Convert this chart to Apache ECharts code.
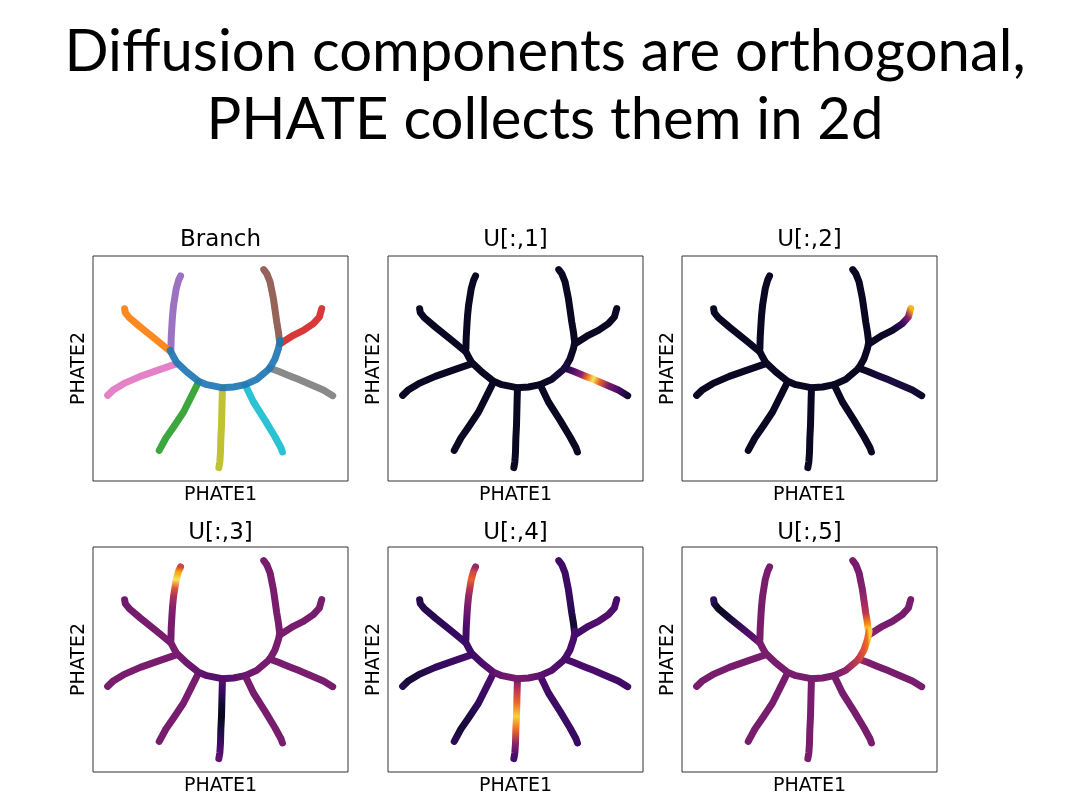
<!DOCTYPE html>
<html><head><meta charset="utf-8">
<script src="https://cdn.jsdelivr.net/npm/echarts@6.0.0/dist/echarts.min.js"></script>
<style>html,body{margin:0;padding:0;background:#fff}#c{width:1072px;height:810px}</style>
</head><body><div id="c"></div>
<script>
// ---------- text ----------
const mainTitle = ['Diffusion components are orthogonal,', 'PHATE collects them in 2d'];
const panelTitles = ['Branch', 'U[:,1]', 'U[:,2]', 'U[:,3]', 'U[:,4]', 'U[:,5]'];
const xLabel = 'PHATE1';
const yLabel = 'PHATE2';

// ---------- embedding (PHATE1, PHATE2), one array per branch ----------
const branchNames = ['trunk', 'purple', 'orange', 'pink', 'green', 'olive', 'cyan', 'gray', 'red', 'brown'];
const trunkXY  = [[-15.0,5.5],[-14.0,3.5],[-13.0,1.8],[-10.0,-1.0],[-6.5,-3.8],[-4.0,-4.8],[0.5,-5.7],[4.0,-5.5],[7.5,-4.8],[11.0,-3.2],[14.8,0.0],[16.5,3.0],[17.5,6.0],[18.0,8.5]];
const purpleXY = [[-14.8,6.0],[-14.7,9.5],[-14.5,13.0],[-14.3,16.0],[-14.0,19.0],[-13.6,21.5],[-13.2,24.0],[-12.5,26.5],[-11.9,27.8]];
const orangeXY = [[-15.0,5.2],[-19.0,8.5],[-24.0,12.5],[-27.3,15.3],[-28.5,16.8],[-28.7,18.0]];
const pinkXY   = [[-13.0,1.5],[-18.0,-0.2],[-24.0,-2.3],[-29.0,-4.5],[-32.0,-6.3],[-33.8,-8.0]];
const greenXY  = [[-6.5,-4.0],[-8.5,-8.0],[-11.0,-13.0],[-14.0,-17.5],[-16.3,-20.8],[-18.3,-24.5]];
const oliveXY  = [[0.7,-5.8],[0.6,-9.0],[0.5,-13.0],[0.4,-17.0],[0.2,-21.0],[0.1,-25.0],[-0.1,-28.0],[-0.4,-29.7]];
const cyanXY   = [[7.5,-4.8],[10.0,-10.0],[13.5,-15.5],[16.5,-20.5],[18.3,-23.8],[18.7,-25.0]];
const grayXY   = [[14.8,0.2],[17.5,-0.8],[20.0,-1.8],[21.7,-2.5],[23.5,-3.2],[25.2,-3.9],[28.0,-5.1],[31.0,-6.4],[33.8,-8.1]];
const redXY    = [[18.0,7.5],[22.0,10.0],[25.0,11.5],[28.0,13.5],[29.8,15.5],[30.5,18.0]];
const brownXY  = [[17.8,8.5],[17.5,11.0],[17.0,14.0],[16.5,17.5],[16.0,21.0],[15.5,23.5],[15.0,26.0],[14.0,28.5],[13.1,29.7]];
const branchXY = [trunkXY, purpleXY, orangeXY, pinkXY, greenXY, oliveXY, cyanXY, grayXY, redXY, brownXY];

// ---------- diffusion component values (0..1 colour scale) per branch point ----------
const U1 = [
  [0.05,0.05,0.05,0.05,0.05,0.05,0.05,0.05,0.05,0.06,0.10,0.06,0.05,0.05],
  [0.05,0.05,0.05,0.05,0.05,0.05,0.05,0.05,0.05],
  [0.05,0.05,0.05,0.05,0.05,0.05],
  [0.05,0.05,0.05,0.05,0.05,0.05],
  [0.05,0.05,0.05,0.05,0.05,0.05],
  [0.05,0.05,0.05,0.05,0.05,0.05,0.05,0.05],
  [0.05,0.05,0.05,0.05,0.05,0.05],
  [0.10,0.22,0.35,0.62,0.85,0.60,0.30,0.20,0.07],
  [0.05,0.05,0.05,0.05,0.05,0.05],
  [0.05,0.05,0.05,0.05,0.05,0.05,0.05,0.05,0.05]
];
const U2 = [
  [0.05,0.05,0.05,0.05,0.05,0.05,0.05,0.05,0.05,0.05,0.05,0.05,0.05,0.05],
  [0.05,0.05,0.05,0.05,0.05,0.05,0.05,0.05,0.05],
  [0.05,0.05,0.05,0.05,0.05,0.05],
  [0.05,0.05,0.05,0.05,0.05,0.05],
  [0.05,0.05,0.05,0.05,0.05,0.05],
  [0.05,0.05,0.05,0.05,0.05,0.05,0.05,0.05],
  [0.05,0.05,0.05,0.05,0.05,0.05],
  [0.05,0.06,0.08,0.10,0.10,0.10,0.09,0.08,0.06],
  [0.05,0.05,0.06,0.15,0.35,0.75],
  [0.05,0.05,0.05,0.05,0.05,0.05,0.05,0.05,0.05]
];
const U3 = [
  [0.30,0.30,0.30,0.28,0.26,0.24,0.22,0.24,0.27,0.29,0.30,0.30,0.30,0.30],
  [0.28,0.30,0.30,0.34,0.42,0.55,0.85,0.70,0.50],
  [0.30,0.30,0.30,0.29,0.28,0.28],
  [0.30,0.30,0.30,0.30,0.30,0.30],
  [0.30,0.30,0.30,0.30,0.30,0.30],
  [0.24,0.17,0.08,0.04,0.10,0.18,0.22,0.25],
  [0.30,0.30,0.30,0.30,0.30,0.30],
  [0.30,0.30,0.30,0.30,0.30,0.30,0.30,0.30,0.30],
  [0.30,0.30,0.30,0.30,0.30,0.30],
  [0.30,0.30,0.30,0.30,0.30,0.30,0.30,0.30,0.30]
];
const U4 = [
  [0.17,0.17,0.17,0.20,0.24,0.27,0.30,0.28,0.24,0.22,0.20,0.20,0.20,0.18],
  [0.17,0.20,0.25,0.30,0.36,0.45,0.58,0.50,0.36],
  [0.18,0.15,0.13,0.12,0.12,0.12],
  [0.20,0.17,0.15,0.10,0.08,0.12],
  [0.22,0.18,0.15,0.10,0.08,0.14],
  [0.30,0.45,0.60,0.80,0.60,0.35,0.22,0.18],
  [0.20,0.18,0.17,0.17,0.16,0.16],
  [0.20,0.20,0.20,0.20,0.20,0.20,0.19,0.18,0.18],
  [0.18,0.20,0.22,0.22,0.20,0.20],
  [0.10,0.07,0.12,0.15,0.17,0.17,0.17,0.18,0.18]
];
const U5 = [
  [0.30,0.30,0.30,0.30,0.30,0.30,0.30,0.30,0.30,0.35,0.48,0.55,0.62,0.80],
  [0.30,0.30,0.30,0.30,0.30,0.30,0.30,0.30,0.30],
  [0.27,0.20,0.08,0.04,0.10,0.15],
  [0.30,0.30,0.30,0.30,0.30,0.30],
  [0.30,0.30,0.30,0.30,0.30,0.30],
  [0.30,0.30,0.30,0.30,0.30,0.30,0.30,0.30],
  [0.30,0.30,0.30,0.30,0.30,0.30],
  [0.40,0.32,0.30,0.30,0.30,0.30,0.30,0.30,0.30],
  [0.35,0.30,0.30,0.30,0.30,0.30],
  [0.85,0.65,0.45,0.38,0.33,0.31,0.30,0.30,0.30]
];
const components = [U1, U2, U3, U4, U5];

// axis extents (PHATE units)
const xRange = [-38.2, 38.4];
const yRange = [-33.7, 33.8];

// ---------- styles ----------
const branchColors = ['#1f77b4','#9467bd','#ff7f0e','#e377c2','#2ca02c','#bcbd22','#17becf','#7f7f7f','#d62728','#8c564b'];
const infernoStops = ['#000004','#0a0722','#1b0c41','#320a5e','#4a0c6b','#61136e','#781c6d','#8f2469','#a52c60','#ba3655','#cf4446','#e05536','#ed6925','#f78311','#fb9b06','#fcb519','#f7d13d','#f3e55d','#f2f27d','#f5f992','#fcffa4'];
function hex2rgb(h){return [parseInt(h.slice(1,3),16),parseInt(h.slice(3,5),16),parseInt(h.slice(5,7),16)];}
function inferno(v){
  v = Math.max(0, Math.min(1, v));
  const p = v * (infernoStops.length - 1), i = Math.min(infernoStops.length - 2, Math.floor(p)), f = p - i;
  const a = hex2rgb(infernoStops[i]), b = hex2rgb(infernoStops[i+1]);
  return 'rgb(' + a.map((c,k)=>Math.round(c + (b[k]-c)*f)).join(',') + ')';
}

const LINE_W = 7;
const lefts = [93, 388, 682], tops = [256, 547];
const boxW = 255, boxH = 225;
const labelFont = {fontFamily: 'DejaVu Sans', fontSize: 19, color: '#000'};

const chart = echarts.init(document.getElementById('c'), null, {renderer: 'canvas', width: 1072, height: 810});

const grids = [], xAxes = [], yAxes = [], graphics = [];
for (let i = 0; i < 6; i++) {
  const c = i % 3, r = Math.floor(i / 3);
  grids.push({left: lefts[c], top: tops[r], width: boxW, height: boxH, show: true,
    borderColor: '#333', borderWidth: 1, backgroundColor: 'transparent', containLabel: false, outerBoundsMode: 'none'});
  xAxes.push({type: 'value', gridIndex: i, min: xRange[0], max: xRange[1],
    axisLine: {show: false}, axisTick: {show: false}, axisLabel: {show: false}, splitLine: {show: false},
    name: xLabel, nameLocation: 'middle', nameGap: 5, nameTextStyle: labelFont});
  yAxes.push({type: 'value', gridIndex: i, min: yRange[0], max: yRange[1],
    axisLine: {show: false}, axisTick: {show: false}, axisLabel: {show: false}, splitLine: {show: false},
    name: yLabel, nameLocation: 'middle', nameGap: 4, nameTextStyle: labelFont});
  graphics.push({type: 'text', x: lefts[c] + boxW / 2, y: r === 0 ? 240.5 : 533.5,
    style: {text: panelTitles[i], font: '23px "DejaVu Sans"', fill: '#000',
      align: 'center', verticalAlign: 'middle', textAlign: 'center', textVerticalAlign: 'middle'}});
}
graphics.push({type: 'text', x: 545, y: 52, style: {text: mainTitle[0], font: '58px Lato', fill: '#000',
  align: 'center', verticalAlign: 'middle', textAlign: 'center', textVerticalAlign: 'middle'}});
graphics.push({type: 'text', x: 545, y: 120, style: {text: mainTitle[1], font: '58px Lato', fill: '#000',
  align: 'center', verticalAlign: 'middle', textAlign: 'center', textVerticalAlign: 'middle'}});

chart.setOption({
  animation: false,
  backgroundColor: '#fff',
  grid: grids, xAxis: xAxes, yAxis: yAxes, graphic: graphics
});

function gradientFor(k, pts, vals) {
  const px = pts.map(p => chart.convertToPixel({gridIndex: k}, p));
  const a = px[0], b = px[px.length - 1];
  const dx = b[0] - a[0], dy = b[1] - a[1], L2 = dx * dx + dy * dy;
  let last = 0;
  const stops = px.map((p, i) => {
    let t = ((p[0] - a[0]) * dx + (p[1] - a[1]) * dy) / L2;
    t = Math.min(1, Math.max(last, t)); last = t;
    return {offset: t, color: inferno(vals[i])};
  });
  return new echarts.graphic.LinearGradient(a[0], a[1], b[0], b[1], stops, true);
}

const drawOrder = [1, 2, 3, 4, 5, 6, 7, 8, 9, 0];
const series = [];
for (let k = 0; k < 6; k++) {
  drawOrder.forEach(b => {
    const color = k === 0 ? branchColors[b] : gradientFor(k, branchXY[b], components[k - 1][b]);
    series.push({
      type: 'line', name: branchNames[b], xAxisIndex: k, yAxisIndex: k,
      data: branchXY[b], showSymbol: false, symbol: 'none', silent: true,
      lineStyle: {width: LINE_W, color: color, cap: 'round', join: 'round', opacity: k === 0 ? 0.92 : 1}
    });
  });
}
chart.setOption({series: series});
</script></body></html>
